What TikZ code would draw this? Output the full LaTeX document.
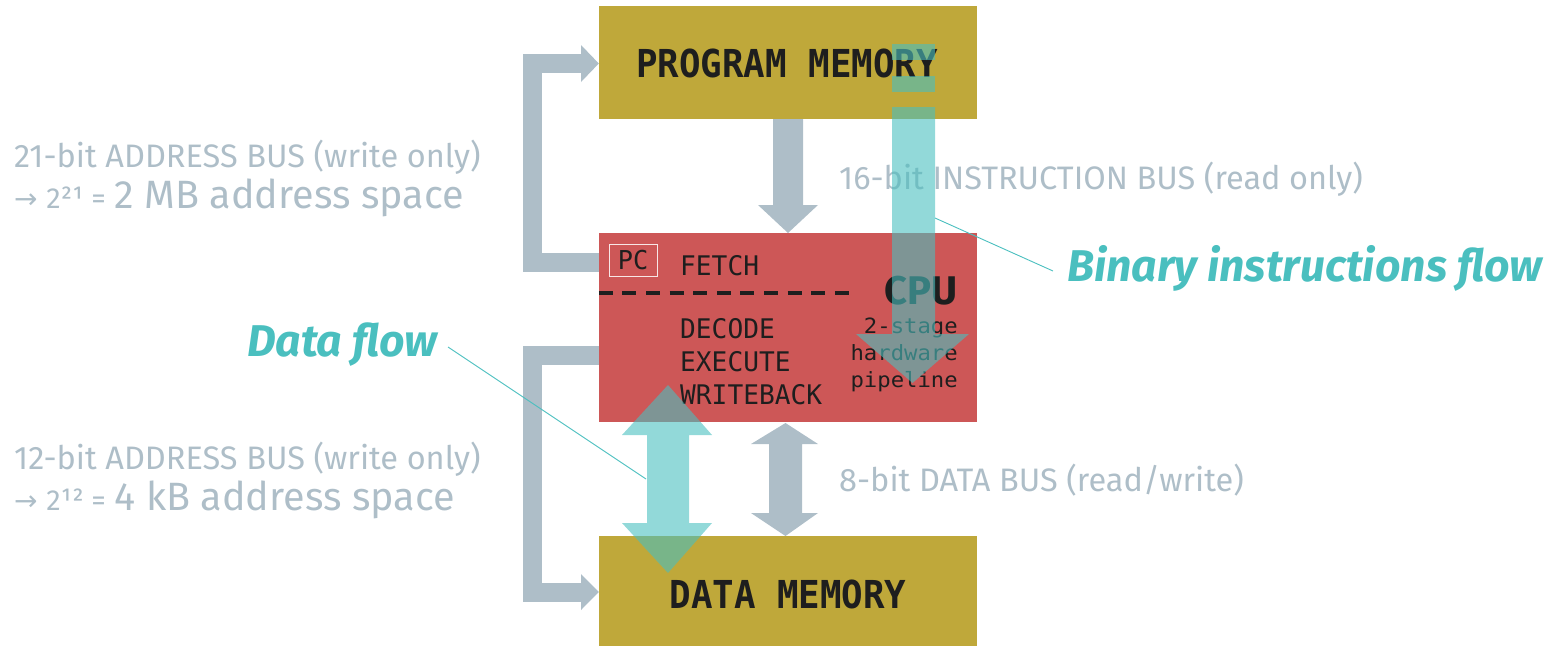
\documentclass[tikz,border=0pt]{standalone}
\usepackage{fontspec}
\setmainfont{Fira Sans}
\newfontfamily\arrowfont{DejaVu Sans}
\newfontfamily\monobig[FakeStretch=0.93]{DejaVu Sans Mono}
\newfontfamily\monomid[FakeStretch=0.97]{DejaVu Sans Mono}
\newfontfamily\monosmall[FakeStretch=1.06]{DejaVu Sans Mono}
\definecolor{gold}{RGB}{191,168,58}
\definecolor{cpured}{RGB}{205,87,87}
\definecolor{busgrey}{RGB}{174,190,200}
\definecolor{flowteal}{RGB}{74,191,191}
\definecolor{ink}{RGB}{30,30,30}
\tikzset{
  box/.style={draw=none, minimum width=378pt, inner sep=0pt},
  busarrow/.style={fill=busgrey, draw=none},
  busline/.style={draw=busgrey, line width=19pt, line join=miter},
  tealflow/.style={fill=flowteal, fill opacity=0.6, draw=none},
  leader/.style={draw=flowteal, line width=0.9pt},
  bustext/.style={text=busgrey, anchor=base west, inner sep=0pt, font=\fontsize{32.5}{34}\selectfont},
  flowtext/.style={text=flowteal, inner sep=0pt, font=\fontsize{44.5}{46}\selectfont\bfseries\itshape},
  cputext/.style={text=ink, anchor=base west, inner sep=0pt, font=\monomid\fontsize{27}{29}\selectfont},
  pipetext/.style={text=ink, anchor=base east, inner sep=0pt, font=\monosmall\fontsize{21}{23}\selectfont},
  memtext/.style={text=ink, inner sep=0pt, font=\monobig\bfseries\fontsize{38.5}{40}\selectfont},
}
\begin{document}
\begin{tikzpicture}[x=1pt,y=-1pt]
\useasboundingbox (0,0) rectangle (1551,646);
% boxes
\node[box, fill=gold, minimum height=113pt] (progmem) at (788,62.5) {};
\node[box, fill=cpured, minimum height=189pt] (cpu) at (788,327.5) {};
\node[box, fill=gold, minimum height=110pt] (datamem) at (788,591) {};
\node[memtext] (pmtxt) at (787,63) {PROGRAM MEMORY};
\node[memtext] (dmtxt) at (788,594) {DATA MEMORY};
% address buses (grey brackets)
\coordinate (a1s) at (cpu.west |- 0,262);
\coordinate (a1e) at (581,63);
\draw[busline] (a1s) -- (532.5,262) -- (532.5,63) -- (a1e);
\fill[busarrow] (581,45) -- (progmem.west |- 0,63.5) -- (581,82) -- cycle;
\coordinate (a2s) at (cpu.west |- 0,355);
\coordinate (a2e) at (581,592);
\draw[busline] (a2s) -- (532.5,355) -- (532.5,592) -- (a2e);
\fill[busarrow] (581,574) -- (datamem.west |- 0,592) -- (581,610) -- cycle;
% instruction bus (grey down arrow)
\fill[busarrow] (773,119) -- (803,119) -- (803,205) -- (818,205) -- (788,233) -- (758,205) -- (773,205) -- cycle;
% data bus (grey double arrow)
\fill[busarrow] (785.5,423) -- (818,444) -- (802,444) -- (802,513) -- (818,513) -- (785.5,536) -- (751,513) -- (769,513) -- (769,444) -- (751,444) -- cycle;
% CPU contents
\node[draw=white!85!cpured, line width=0.8pt, minimum width=48pt, minimum height=32pt, inner sep=0pt] (pc) at (633,260) {};
\node[text=ink, font=\monomid\fontsize{26}{28}\selectfont, inner sep=0pt] (pctxt) at (pc.center) {PC};
\node[cputext] (fetch) at (680,275) {FETCH};
\draw[ink, line width=3.6pt, dash pattern=on 14pt off 9.6pt] (cpu.west |- 0,293) -- (855,293);
\node[cputext] (decode) at (680,338) {DECODE};
\node[cputext] (execute) at (680,371) {EXECUTE};
\node[cputext] (writeback) at (680,404) {WRITEBACK};
\node[text=ink, anchor=base east, inner sep=0pt, font=\fontsize{40}{42}\selectfont\bfseries] (cputitle) at (958,304) {CPU};
\node[pipetext] (p1) at (958,333) {2-stage};
\node[pipetext] (p2) at (958,360) {hardware};
\node[pipetext] (p3) at (958,387) {pipeline};
% labels
\node[bustext] (l1) at (14,167) {21-bit ADDRESS BUS (write only)};
\node[bustext] (l2) at (14,208) {{\arrowfont\fontsize{28}{30}\selectfont →} {\fontsize{29}{31}\selectfont 2²¹ =} {\fontsize{39.5}{41}\selectfont 2 MB address space}};
\node[bustext] (l3) at (14,469) {12-bit ADDRESS BUS (write only)};
\node[bustext] (l4) at (14,510) {{\arrowfont\fontsize{28}{30}\selectfont →} {\fontsize{29}{31}\selectfont 2¹² =} {\fontsize{39.5}{41}\selectfont 4 kB address space}};
\node[bustext] (l5) at (839,189) {16-bit INSTRUCTION BUS (read only)};
\node[bustext] (l6) at (839,491) {8-bit DATA BUS (read/write)};
% teal flows
\fill[tealflow] (892,44) rectangle (935,60);
\fill[tealflow] (892,76) rectangle (935,92);
\fill[tealflow] (892,107) -- (935,107) -- (935,334) -- (969,334) -- (912.5,383) -- (856,334) -- (892,334) -- cycle;
\fill[tealflow] (668,385) -- (712,435) -- (689,435) -- (689,523) -- (712,523) -- (668,573) -- (622,523) -- (647,523) -- (647,435) -- (622,435) -- cycle;
\node[flowtext, anchor=west] (binlbl) at (1067,268) {Binary instructions flow};
\node[flowtext, anchor=east] (datalbl) at (438,345) {Data flow};
\coordinate (binpt) at (935,218);
\coordinate (binend) at (1053,271);
\draw[leader] (binpt) -- (binend);
\coordinate (datastart) at (448,347);
\coordinate (datapt) at (646,479);
\draw[leader] (datastart) -- (datapt);
\end{tikzpicture}
\end{document}
